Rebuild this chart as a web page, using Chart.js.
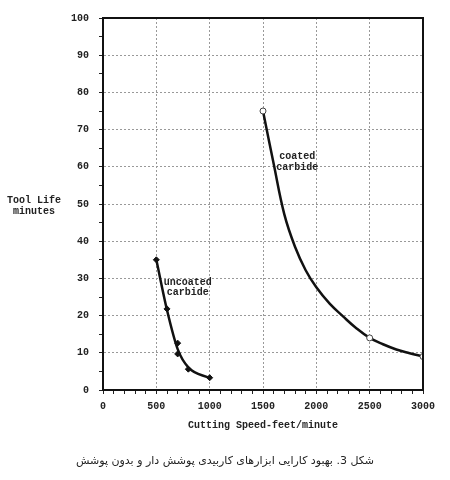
<!DOCTYPE html>
<html>
<head>
<meta charset="utf-8">
<script src="https://cdn.jsdelivr.net/npm/chart.js@4/dist/chart.umd.min.js"></script>
<style>
  body { margin: 0; background: #fff; }
  #wrap { position: relative; width: 450px; height: 480px; }
  #caption {
    position: absolute; left: 0; top: 454px; width: 450px;
    text-align: center; direction: rtl;
    font: 11px "DejaVu Sans", sans-serif; color: #222;
  }
</style>
</head>
<body>
<div id="wrap">
  <canvas id="toolChart" width="450" height="480"></canvas>
  <div id="caption">شکل 3. بهبود کارایی ابزارهای کاربیدی پوشش دار و بدون پوشش</div>
</div>
<script>
// values
const coatedSpeed = [1500, 1600, 1700, 1800, 1900, 2000, 2125, 2250, 2375, 2500, 2625, 2750, 2875, 3000];
const coatedLife  = [75, 60.8, 47.2, 38.5, 32.2, 27.6, 23.2, 19.8, 16.6, 14, 12.3, 10.9, 9.9, 9];
const coatedMarked = [1500, 2500, 3000];

const uncoatedCurveSpeed = [500, 600, 700, 800, 1000];
const uncoatedCurveLife  = [35, 21.5, 11, 6.1, 3.2];
const uncoatedPointSpeed = [500, 600, 700, 700, 800, 1000];
const uncoatedPointLife  = [35, 21.8, 12.6, 9.7, 5.6, 3.3];

const xMax = 3000, xMajor = 500, xMinor = 100;
const yMax = 100, yMajor = 10, yMinor = 5;

const monoFont = '"Liberation Mono", "DejaVu Sans Mono", monospace';

const toPoints = (xs, ys) => xs.map((x, i) => ({ x: x, y: ys[i] }));

// text labels drawn in data space + the frame round the plot
const textPlugin = {
    id: 'textPlugin',
    afterDraw(chart) {
        const { ctx, chartArea, scales } = chart;
        const x = scales.x, y = scales.y;
        ctx.save();
        ctx.strokeStyle = '#111';
        ctx.lineWidth = 2;
        ctx.strokeRect(chartArea.left, chartArea.top, chartArea.right - chartArea.left, chartArea.bottom - chartArea.top);

        ctx.fillStyle = '#222';
        ctx.textAlign = 'center';
        ctx.textBaseline = 'middle';
        ctx.font = 'bold 10px ' + monoFont;
        ctx.fillText('coated', x.getPixelForValue(1820), y.getPixelForValue(62.8));
        ctx.fillText('carbide', x.getPixelForValue(1820), y.getPixelForValue(59.7));
        ctx.fillText('uncoated', x.getPixelForValue(795), y.getPixelForValue(29));
        ctx.fillText('carbide', x.getPixelForValue(795), y.getPixelForValue(26.3));

        ctx.fillText('Cutting Speed-feet/minute', (chartArea.left + chartArea.right) / 2, chartArea.bottom + 35);
        ctx.fillText('Tool Life', 34, y.getPixelForValue(50) - 4);
        ctx.fillText('minutes', 34, y.getPixelForValue(50) + 7);
        ctx.restore();
    }
};

const chartCtx = document.getElementById('toolChart').getContext('2d');
new Chart(chartCtx, {
    type: 'scatter',
    data: {
        datasets: [{
            label: 'coated carbide',
            data: toPoints(coatedSpeed, coatedLife),
            showLine: true,
            tension: 0.4,
            borderColor: '#111',
            borderWidth: 2.5,
            pointRadius: coatedSpeed.map(s => coatedMarked.includes(s) ? 3 : 0),
            pointBackgroundColor: '#fff',
            pointBorderColor: '#444',
            pointBorderWidth: 1
        }, {
            label: 'uncoated carbide curve',
            data: toPoints(uncoatedCurveSpeed, uncoatedCurveLife),
            showLine: true,
            cubicInterpolationMode: 'monotone',
            borderColor: '#111',
            borderWidth: 2.5,
            pointRadius: 0
        }, {
            label: 'uncoated carbide',
            data: toPoints(uncoatedPointSpeed, uncoatedPointLife),
            showLine: false,
            pointStyle: 'rectRot',
            pointRadius: 3,
            pointBackgroundColor: '#111',
            pointBorderColor: '#111'
        }]
    },
    options: {
        responsive: false,
        animation: false,
        layout: { padding: { left: 63, right: 27, top: 18, bottom: 40 } },
        plugins: { legend: { display: false }, tooltip: { enabled: false } },
        scales: {
            x: {
                type: 'linear', min: 0, max: xMax,
                afterFit: s => { s.height = 50; },
                ticks: {
                    stepSize: xMinor, autoSkip: false, maxRotation: 0, padding: 6,
                    color: '#222', font: { family: monoFont, size: 10, weight: 'bold' },
                    callback: v => v % xMajor === 0 ? v : ''
                },
                grid: {
                    color: c => c.tick && c.tick.value % xMajor === 0 ? '#999' : 'rgba(0,0,0,0)',
                    tickColor: '#222', tickLength: 4, lineWidth: 1
                },
                border: { color: '#111', width: 2, dash: [2, 2] }
            },
            y: {
                type: 'linear', min: 0, max: yMax,
                afterFit: s => { s.width = 40; },
                ticks: {
                    stepSize: yMinor, autoSkip: false, padding: 10,
                    color: '#222', font: { family: monoFont, size: 10, weight: 'bold' },
                    callback: v => v % yMajor === 0 ? v : ''
                },
                grid: {
                    color: c => c.tick && c.tick.value % yMajor === 0 ? '#999' : 'rgba(0,0,0,0)',
                    tickColor: '#222', tickLength: 4, lineWidth: 1
                },
                border: { color: '#111', width: 2, dash: [2, 2] }
            }
        }
    },
    plugins: [textPlugin]
});
</script>
</body>
</html>
